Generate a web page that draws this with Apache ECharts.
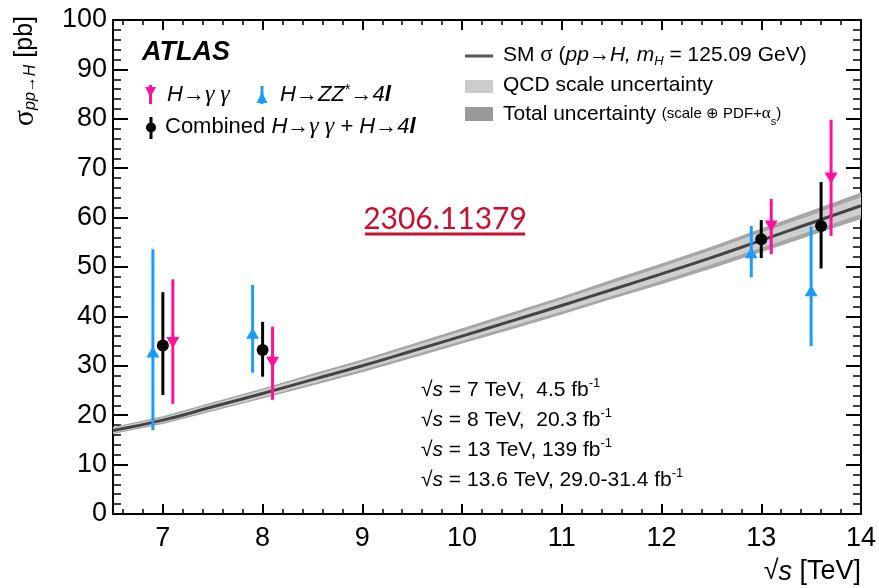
<!DOCTYPE html>
<html><head><meta charset="utf-8">
<script src="https://cdn.jsdelivr.net/npm/echarts@6/dist/echarts.min.js"></script>
<style>html,body{margin:0;padding:0;background:#fff}#c{width:879px;height:588px}</style>
</head><body><div id="c"></div>
<script>
// SM prediction curve and uncertainty bands
const smX      = [6.5, 7, 7.5, 8, 8.5, 9, 9.5, 10, 10.5, 11, 11.5, 12, 12.5, 13, 13.5, 14];
const smCenter = [16.9, 19.0, 21.7, 24.4, 27.2, 30.0, 33.0, 36.0, 39.1, 42.2, 45.4, 48.6, 51.9, 55.4, 58.9, 62.4];
const totLow   = [16.2, 18.2, 20.8, 23.4, 26.0, 28.7, 31.6, 34.5, 37.4, 40.4, 43.5, 46.5, 49.7, 53.0, 56.4, 59.7];
const totHigh  = [17.6, 19.8, 22.6, 25.4, 28.4, 31.3, 34.4, 37.6, 40.8, 44.0, 47.4, 50.7, 54.1, 57.8, 61.4, 65.1];
const qcdLow   = [16.4, 18.5, 21.1, 23.7, 26.4, 29.2, 32.1, 35.0, 38.0, 41.0, 44.1, 47.2, 50.5, 53.9, 57.3, 60.7];
const qcdHigh  = [17.4, 19.5, 22.3, 25.1, 28.0, 30.8, 33.9, 37.0, 40.2, 43.4, 46.7, 50.0, 53.4, 57.0, 60.5, 64.1];

// H -> gamma gamma
const yyX    = [7.1, 8.1, 13.1, 13.7];
const yyVal  = [34.7, 30.7, 58.3, 68.0];
const yyLow  = [22.3, 23.1, 52.6, 56.3];
const yyHigh = [47.5, 37.9, 63.8, 79.8];
// H -> ZZ* -> 4l
const zzX    = [6.9, 7.9, 12.9, 13.5];
const zzVal  = [32.8, 36.6, 52.9, 45.2];
const zzLow  = [17.0, 28.6, 47.9, 34.0];
const zzHigh = [53.6, 46.4, 58.3, 58.2];
// Combined
const combX    = [7.0, 8.0, 13.0, 13.6];
const combVal  = [34.1, 33.2, 55.6, 58.3];
const combLow  = [24.1, 27.8, 51.8, 49.7];
const combHigh = [44.9, 38.9, 59.5, 67.2];

const PINK = '#ff0f9b', BLUE = '#1a9cff', BLACK = '#000000';
const FONT = 'Liberation Sans';

function bandSeries(low, high, color, z) {
  return {
    type: 'custom', coordinateSystem: 'cartesian2d', silent: true, z: z,
    data: smX.map((x, i) => [x, low[i], high[i]]),
    encode: { x: 0, y: [1, 2] },
    renderItem: function (params, api) {
      if (params.dataIndex !== 0) return null;
      const pts = [];
      for (let i = 0; i < smX.length; i++) pts.push(api.coord([smX[i], high[i]]));
      for (let i = smX.length - 1; i >= 0; i--) pts.push(api.coord([smX[i], low[i]]));
      return { type: 'polygon', shape: { points: pts }, style: { fill: color } };
    }
  };
}
function errSeries(xs, lo, hi, color) {
  return {
    type: 'custom', coordinateSystem: 'cartesian2d', silent: true, z: 5,
    data: xs.map((x, i) => [x, lo[i], hi[i]]),
    encode: { x: 0, y: [1, 2] },
    renderItem: function (params, api) {
      const a = api.coord([api.value(0), api.value(1)]);
      const b = api.coord([api.value(0), api.value(2)]);
      return { type: 'line', shape: { x1: a[0], y1: a[1], x2: b[0], y2: b[1] },
               style: { stroke: color, lineWidth: 3 } };
    }
  };
}
function markSeries(xs, vals, color, symbol, size, rot) {
  return {
    type: 'scatter', silent: true, z: 6,
    data: xs.map((x, i) => [x, vals[i]]),
    symbol: symbol, symbolSize: size, symbolRotate: rot,
    itemStyle: { color: color, opacity: 1 }
  };
}

function xAx(pos, showLabel) {
  return {
    type: 'value', min: 6.5, max: 14, splitNumber: 7, position: pos,
    axisLine: { show: true, onZero: false, lineStyle: { color: '#000', width: 2 } },
    axisTick: { show: true, inside: true, length: 10, lineStyle: { color: '#000', width: 2 } },
    minorTick: { show: true, splitNumber: 5, length: 5, lineStyle: { color: '#000', width: 1.5 } },
    splitLine: { show: false },
    axisLabel: { show: showLabel, fontSize: 27, fontFamily: FONT, color: '#000', margin: 11,
      formatter: v => (Math.abs(v - Math.round(v)) < 1e-6 ? String(Math.round(v)) : '') }
  };
}
function yAx(pos, showLabel) {
  return {
    type: 'value', min: 0, max: 100, interval: 10, position: pos,
    axisLine: { show: true, onZero: false, lineStyle: { color: '#000', width: 2 } },
    axisTick: { show: true, inside: true, length: 15, lineStyle: { color: '#000', width: 2 } },
    minorTick: { show: true, splitNumber: 5, length: 8, lineStyle: { color: '#000', width: 1.5 } },
    splitLine: { show: false },
    axisLabel: { show: showLabel, fontSize: 27, fontFamily: FONT, color: '#000', margin: 6 }
  };
}

const rich21 = {
  n: { fontFamily: FONT, fontSize: 21, color: '#000', lineHeight: 26 },
  i: { fontFamily: FONT, fontSize: 21, fontStyle: 'italic', color: '#000', lineHeight: 26 },
  g: { fontFamily: 'Liberation Serif', fontSize: 23, color: '#000', lineHeight: 26 },
  sub: { fontFamily: FONT, fontSize: 13, fontStyle: 'italic', color: '#000', lineHeight: 13, verticalAlign: 'bottom' },
  sup: { fontFamily: FONT, fontSize: 13, color: '#000', lineHeight: 15, verticalAlign: 'top' },
  s: { fontFamily: FONT, fontSize: 15, color: '#000', lineHeight: 26 },
  sg: { fontFamily: 'Liberation Serif', fontSize: 17, color: '#000', lineHeight: 26 },
  ss: { fontFamily: FONT, fontSize: 11, color: '#000', lineHeight: 11, verticalAlign: 'bottom' }
};
const rich22 = {
  n: { fontFamily: FONT, fontSize: 22, color: '#000', lineHeight: 26 },
  i: { fontFamily: FONT, fontSize: 22, fontStyle: 'italic', color: '#000', lineHeight: 26 },
  g: { fontFamily: 'Liberation Serif', fontSize: 24, fontStyle: 'italic', color: '#000', lineHeight: 26 },
  ib: { fontFamily: FONT, fontSize: 22, fontStyle: 'italic', fontWeight: 'bold', color: '#000', lineHeight: 26 },
  sup: { fontFamily: FONT, fontSize: 15, color: '#000', lineHeight: 18, verticalAlign: 'top' }
};
function txt(x, y, text, rich, align) {
  return { type: 'text', x: x, y: y, silent: true, z: 10,
    style: { text: text, rich: rich, align: align || 'left', verticalAlign: 'middle' } };
}

const graphics = [
  { type: 'text', x: 142, y: 53, silent: true, z: 10,
    style: { text: 'ATLAS', fontFamily: FONT, fontSize: 27, fontWeight: 'bold', fontStyle: 'italic', fill: '#000', align: 'left', verticalAlign: 'middle' } },
  { type: 'line', silent: true, z: 10, shape: { x1: 150.5, y1: 85, x2: 150.5, y2: 104 }, style: { stroke: PINK, lineWidth: 3 } },
  { type: 'polygon', silent: true, z: 10, shape: { points: [[145, 87], [156, 87], [150.5, 97]] }, style: { fill: PINK } },
  { type: 'line', silent: true, z: 10, shape: { x1: 262, y1: 86, x2: 262, y2: 104 }, style: { stroke: BLUE, lineWidth: 3 } },
  { type: 'polygon', silent: true, z: 10, shape: { points: [[256.5, 103], [267.5, 103], [262, 92]] }, style: { fill: BLUE } },
  { type: 'line', silent: true, z: 10, shape: { x1: 151, y1: 117, x2: 151, y2: 139 }, style: { stroke: BLACK, lineWidth: 3 } },
  { type: 'circle', silent: true, z: 10, shape: { cx: 151, cy: 127.5, r: 5 }, style: { fill: BLACK } },
  txt(167, 95, '{i|H→}{g|γ γ}', rich22),
  txt(280, 95, '{i|H→ZZ}{sup|*}{i|→4}{ib|l}', rich22),
  txt(165, 127, '{n|Combined }{i|H→}{g|γ γ}{i| + H→4}{ib|l}', rich22),
  { type: 'line', silent: true, z: 10, shape: { x1: 465, y1: 56, x2: 493, y2: 56 }, style: { stroke: '#555', lineWidth: 3 } },
  { type: 'rect', silent: true, z: 10, shape: { x: 465, y: 80, width: 28, height: 13 }, style: { fill: '#cccccc' } },
  { type: 'rect', silent: true, z: 10, shape: { x: 465, y: 107, width: 28, height: 14 }, style: { fill: '#999999' } },
  txt(503, 55, '{n|SM }{g|σ}{n| (}{i|pp→H, m}{sub|H}{n| = 125.09 GeV)}', rich21),
  txt(503, 85, '{n|QCD scale uncertainty}', rich21),
  txt(503, 114, '{n|Total uncertainty }{s|(scale ⊕ PDF+}{sg|α}{ss|s}{s|)}', rich21),
  txt(421, 390, '{n|√}{i|s}{n| = 7 TeV,  4.5 fb}{sup|-1}', rich21),
  txt(421, 420, '{n|√}{i|s}{n| = 8 TeV,  20.3 fb}{sup|-1}', rich21),
  txt(421, 450, '{n|√}{i|s}{n| = 13 TeV, 139 fb}{sup|-1}', rich21),
  txt(421, 480, '{n|√}{i|s}{n| = 13.6 TeV, 29.0-31.4 fb}{sup|-1}', rich21),
  { type: 'text', x: 445, y: 219, silent: true, z: 10,
    style: { text: '2306.11379', fontFamily: 'Lato', fontSize: 30, fill: '#c8102e', align: 'center', verticalAlign: 'middle' } },
  { type: 'rect', silent: true, z: 10, shape: { x: 365, y: 232.5, width: 160, height: 3 }, style: { fill: '#c8102e' } },
  { type: 'text', x: 861, y: 572, silent: true, z: 10,
    style: { text: '{n|√}{i|s}{n| [TeV]}', align: 'right', verticalAlign: 'middle',
      rich: { n: { fontFamily: FONT, fontSize: 27, color: '#000' }, i: { fontFamily: FONT, fontSize: 27, fontStyle: 'italic', color: '#000' } } } },
  { type: 'text', x: 25, y: 16, rotation: Math.PI / 2, silent: true, z: 10,
    style: { text: '{g|σ}{sub|pp→H}{n| [pb]}', align: 'right', verticalAlign: 'middle',
      rich: {
        g: { fontFamily: 'Liberation Serif', fontSize: 30, color: '#000', lineHeight: 28 },
        n: { fontFamily: FONT, fontSize: 25, color: '#000', lineHeight: 28 },
        sub: { fontFamily: FONT, fontSize: 16, fontStyle: 'italic', color: '#000', lineHeight: 14, verticalAlign: 'bottom' }
      } } }
];

const chart = echarts.init(document.getElementById('c'), null, { renderer: 'canvas' });
chart.setOption({
  animation: false,
  backgroundColor: '#fff',
  grid: { left: 113, right: 18, top: 20, bottom: 74 },
  xAxis: [xAx('bottom', true), xAx('top', false)],
  yAxis: [yAx('left', true), yAx('right', false)],
  series: [
    bandSeries(totLow, totHigh, '#a6a6a6', 1),
    bandSeries(qcdLow, qcdHigh, '#cfcfcf', 2),
    { type: 'line', silent: true, z: 3, smooth: true, showSymbol: false,
      data: smX.map((x, i) => [x, smCenter[i]]),
      lineStyle: { color: '#444', width: 3 } },
    errSeries(zzX, zzLow, zzHigh, BLUE),
    errSeries(combX, combLow, combHigh, BLACK),
    errSeries(yyX, yyLow, yyHigh, PINK),
    markSeries(zzX, zzVal, BLUE, 'triangle', [13, 11], 0),
    markSeries(combX, combVal, BLACK, 'circle', 12, 0),
    markSeries(yyX, yyVal, PINK, 'triangle', [13, 11], 180)
  ]
});
// add the annotation elements one by one (keeps the axis ticks intact)
graphics.forEach((g, k) => {
  const el = Object.assign({ id: 'g' + k }, g);
  try { chart.setOption({ graphic: { elements: [el] } }); } catch (e) { /* skip element */ }
});
</script></body></html>
